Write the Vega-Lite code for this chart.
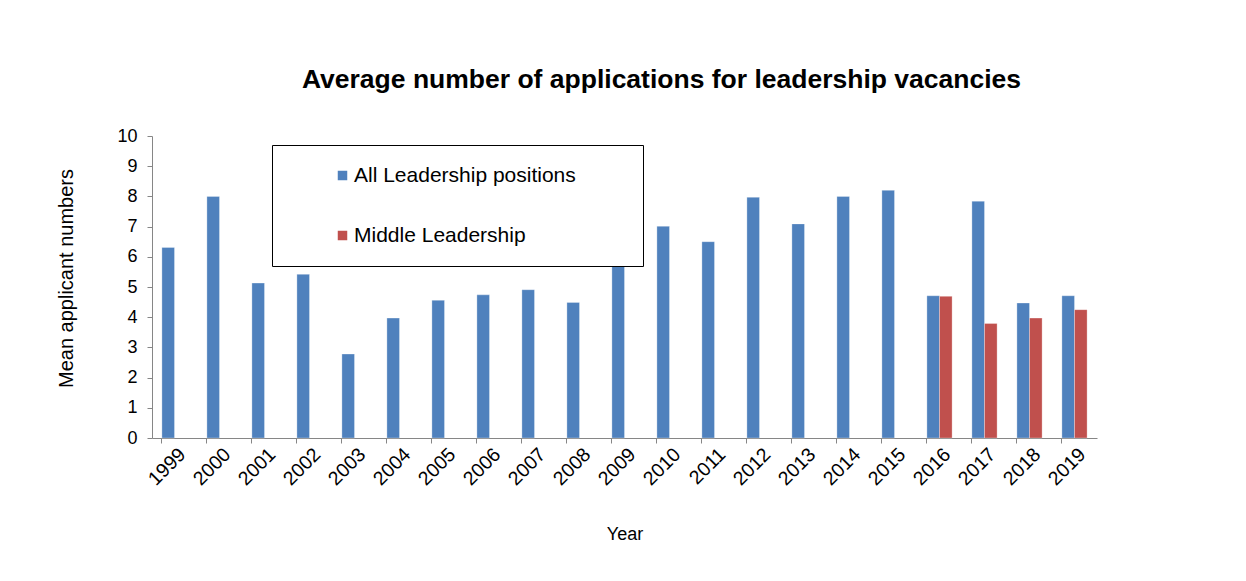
{
  "$schema": "https://vega.github.io/schema/vega-lite/v6.json",
  "autosize": "none",
  "width": 945,
  "height": 302,
  "padding": {"left": 152, "top": 136, "right": 149, "bottom": 143},
  "background": "white",
  "title": {
    "text": "Average number of applications for leadership vacancies",
    "anchor": "middle",
    "dx": 37,
    "offset": 34,
    "font": "Liberation Sans",
    "fontSize": 26.5,
    "fontWeight": "bold",
    "color": "black"
  },
  "data": {
    "values": [
      {"year": "1999", "series": "All Leadership positions", "value": 6.31},
      {"year": "2000", "series": "All Leadership positions", "value": 8.0},
      {"year": "2001", "series": "All Leadership positions", "value": 5.13},
      {"year": "2002", "series": "All Leadership positions", "value": 5.42},
      {"year": "2003", "series": "All Leadership positions", "value": 2.78},
      {"year": "2004", "series": "All Leadership positions", "value": 3.97},
      {"year": "2005", "series": "All Leadership positions", "value": 4.56},
      {"year": "2006", "series": "All Leadership positions", "value": 4.74},
      {"year": "2007", "series": "All Leadership positions", "value": 4.91},
      {"year": "2008", "series": "All Leadership positions", "value": 4.49},
      {"year": "2009", "series": "All Leadership positions", "value": 6.1},
      {"year": "2010", "series": "All Leadership positions", "value": 7.01},
      {"year": "2011", "series": "All Leadership positions", "value": 6.5},
      {"year": "2012", "series": "All Leadership positions", "value": 7.97},
      {"year": "2013", "series": "All Leadership positions", "value": 7.09},
      {"year": "2014", "series": "All Leadership positions", "value": 8.0},
      {"year": "2015", "series": "All Leadership positions", "value": 8.2},
      {"year": "2016", "series": "All Leadership positions", "value": 4.71},
      {"year": "2017", "series": "All Leadership positions", "value": 7.84},
      {"year": "2018", "series": "All Leadership positions", "value": 4.47},
      {"year": "2019", "series": "All Leadership positions", "value": 4.71},
      {"year": "2016", "series": "Middle Leadership", "value": 4.69},
      {"year": "2017", "series": "Middle Leadership", "value": 3.79},
      {"year": "2018", "series": "Middle Leadership", "value": 3.97},
      {"year": "2019", "series": "Middle Leadership", "value": 4.25}
    ]
  },
  "mark": {"type": "bar", "stroke": "white", "strokeOpacity": 0.5, "strokeWidth": 0.6},
  "encoding": {
    "x": {
      "field": "year",
      "type": "nominal",
      "scale": {"paddingInner": 0.44, "paddingOuter": 0.22},
      "axis": {
        "bandPosition": 0,
        "title": "Year",
        "titleFont": "Liberation Sans",
        "titleFontSize": 18,
        "titleFontWeight": "normal",
        "titleColor": "black",
        "titlePadding": 37,
        "labelAngle": -45,
        "labelAlign": "right",
        "labelBaseline": "middle",
        "labelFont": "Liberation Sans",
        "labelFontSize": 19.5,
        "labelColor": "black",
        "labelPadding": 8,
        "labelOffset": 8,
        "tickSize": 5,
        "tickColor": "#868686",
        "domainColor": "#868686"
      }
    },
    "xOffset": {
      "field": "series",
      "type": "nominal",
      "scale": {"domain": ["All Leadership positions", "Middle Leadership"]}
    },
    "y": {
      "field": "value",
      "type": "quantitative",
      "scale": {"domain": [0, 10], "nice": false},
      "axis": {
        "title": "Mean applicant numbers",
        "titleFont": "Liberation Sans",
        "titleFontSize": 20,
        "titleFontWeight": "normal",
        "titleColor": "black",
        "titlePadding": 40,
        "titleY": 142,
        "values": [0, 1, 2, 3, 4, 5, 6, 7, 8, 9, 10],
        "labelFont": "Liberation Sans",
        "labelFontSize": 18,
        "labelColor": "black",
        "labelPadding": 10,
        "tickSize": 5,
        "tickColor": "#868686",
        "domainColor": "#868686",
        "grid": false
      }
    },
    "color": {
      "field": "series",
      "type": "nominal",
      "scale": {"domain": ["All Leadership positions", "Middle Leadership"], "range": ["#4F81BD", "#C0504D"]},
      "legend": {
        "title": null,
        "orient": "none",
        "legendX": 120,
        "legendY": 9,
        "direction": "vertical",
        "fillColor": "white",
        "strokeColor": "black",
        "padding": 20,
        "symbolType": "square",
        "symbolSize": 121,
        "symbolOffset": 40,
        "labelOffset": 1,
        "labelFont": "Liberation Sans",
        "labelFontSize": 21,
        "labelColor": "black",
        "labelLimit": 700,
        "rowPadding": 38,
        "labelExpr": "datum.label + '\u00a0\u00a0\u00a0\u00a0\u00a0\u00a0\u00a0\u00a0\u200b'"
      }
    }
  },
  "config": {
    "view": {"stroke": null},
    "font": "Liberation Sans"
  }
}
